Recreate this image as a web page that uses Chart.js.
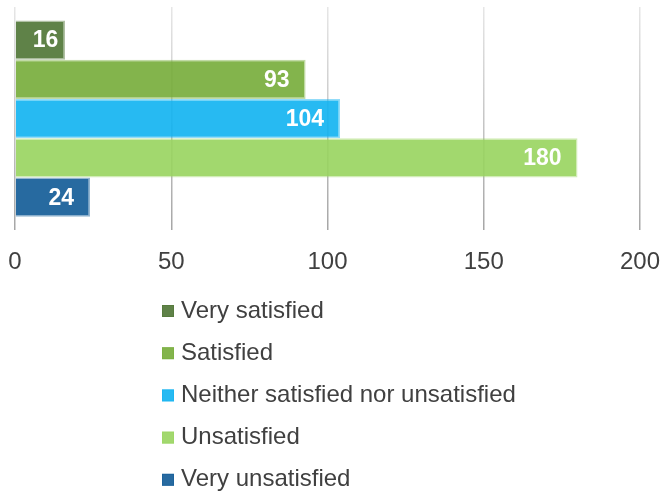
<!DOCTYPE html>
<html>
<head>
<meta charset="utf-8">
<script src="https://cdn.jsdelivr.net/npm/chart.js@4.4.1/dist/chart.umd.min.js"></script>
<style>
    html, body { margin: 0; padding: 0; background: #ffffff; }
    #wrap { width: 660px; height: 494px; }
</style>
</head>
<body>
<div id="wrap"><canvas id="graficoBarras" width="660" height="494"></canvas></div>
<script>
const categorias = ['Very satisfied', 'Satisfied', 'Neither satisfied nor unsatisfied', 'Unsatisfied', 'Very unsatisfied'];
const valores = [16, 93, 104, 180, 24];
const colores = ['rgba(78, 116, 52, 0.9)', 'rgba(118, 172, 56, 0.9)', 'rgba(15, 178, 241, 0.9)', 'rgba(152, 212, 94, 0.9)', 'rgba(16, 90, 150, 0.9)'];
const bordes = ['rgba(78, 116, 52, 0.45)', 'rgba(118, 172, 56, 0.45)', 'rgba(15, 178, 241, 0.45)', 'rgba(152, 212, 94, 0.45)', 'rgba(16, 90, 150, 0.45)'];
const ticksX = [0, 50, 100, 150, 200];

const fuente = "'Liberation Sans', Arial, sans-serif";

// etiquetas blancas dentro del final de cada barra
const etiquetasBarras = {
    id: 'etiquetasBarras',
    afterDatasetsDraw(chart) {
        const ctx = chart.ctx;
        ctx.save();
        ctx.font = 'bold 23px ' + fuente;
        ctx.fillStyle = '#ffffff';
        ctx.textAlign = 'right';
        ctx.textBaseline = 'middle';
        chart.data.datasets.forEach((ds, i) => {
            const bar = chart.getDatasetMeta(i).data[0];
            const texto = String(ds.data[0]);
            const ancho = ctx.measureText(texto).width;
            const x = Math.max(bar.x - 16, bar.base + ancho + 17);
            ctx.fillText(texto, x, bar.y + 1);
        });
        ctx.restore();
    }
};

// leyenda en columna debajo del eje
const leyendaColumna = {
    id: 'leyendaColumna',
    afterDraw(chart) {
        const ctx = chart.ctx;
        ctx.save();
        ctx.font = '24px ' + fuente;
        ctx.textAlign = 'left';
        ctx.textBaseline = 'middle';
        chart.data.datasets.forEach((ds, i) => {
            const y = 311 + i * 42.2;
            ctx.fillStyle = ds.backgroundColor;
            ctx.fillRect(162, y - 6, 12, 12);
            ctx.strokeStyle = ds.borderColor;
            ctx.lineWidth = 1;
            ctx.strokeRect(162.5, y - 5.5, 11, 11);
            ctx.fillStyle = '#404040';
            ctx.fillText(ds.label, 181, y);
        });
        ctx.restore();
    }
};

function colorRejilla(context) {
    const chart = context.chart;
    const area = chart.chartArea;
    if (!area) return '#cccccc';
    const g = chart.ctx.createLinearGradient(0, area.top, 0, area.bottom);
    g.addColorStop(0, '#e6e6e6');
    g.addColorStop(1, '#a6a6a6');
    return g;
}

new Chart(document.getElementById('graficoBarras').getContext('2d'), {
    type: 'bar',
    data: {
        labels: [''],
        datasets: categorias.map((c, i) => ({
            label: c,
            data: [valores[i]],
            backgroundColor: colores[i],
            borderColor: bordes[i],
            borderWidth: 1.5,
            categoryPercentage: 0.88,
            barPercentage: 1
        }))
    },
    options: {
        indexAxis: 'y',
        responsive: false,
        animation: false,
        layout: {
            padding: { left: 15, right: 20, top: 7, bottom: 199 }
        },
        scales: {
            x: {
                min: ticksX[0],
                max: ticksX[ticksX.length - 1],
                afterBuildTicks: (scale) => {
                    scale.ticks = ticksX.map(v => ({ value: v }));
                },
                afterFit: (scale) => {
                    scale.paddingLeft = 0;
                    scale.paddingRight = 0;
                },
                grid: {
                    color: colorRejilla,
                    lineWidth: 1.5,
                    drawTicks: false
                },
                border: { display: false },
                ticks: {
                    padding: 18,
                    color: '#404040',
                    font: { size: 24, family: fuente }
                }
            },
            y: {
                display: false
            }
        },
        plugins: {
            legend: { display: false },
            tooltip: { enabled: false }
        }
    },
    plugins: [etiquetasBarras, leyendaColumna]
});
</script>
</body>
</html>
